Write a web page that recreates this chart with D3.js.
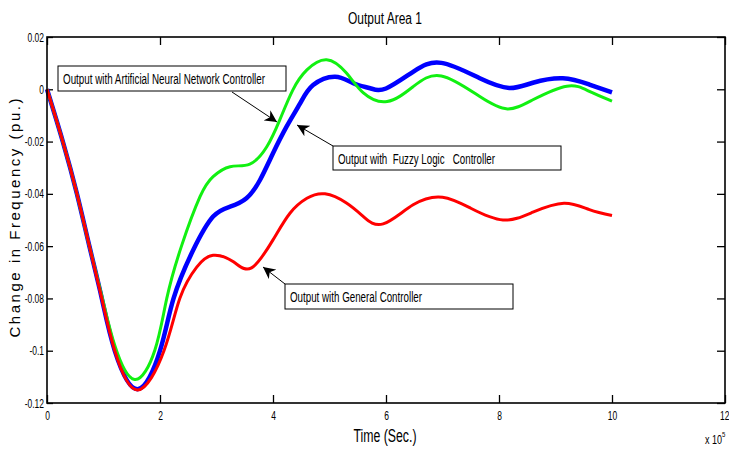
<!DOCTYPE html>
<html>
<head>
<meta charset="utf-8">
<script src="https://cdn.jsdelivr.net/npm/d3@7/dist/d3.min.js"></script>
<style>
body { margin: 0; background: #fff; }
text { font-family: "Liberation Sans", Arial, sans-serif; fill: #000; }
</style>
</head>
<body>
<div id="chart"></div>
<script>
var svgWidth = 729;
var svgHeight = 449;

var margin = { top: 37, right: 4, bottom: 46, left: 47 };
var width = svgWidth - margin.left - margin.right;
var height = svgHeight - margin.top - margin.bottom;

// tick values / labels
var xTicks = [0, 2, 4, 6, 8, 10, 12];
var yTicks = [0.02, 0, -0.02, -0.04, -0.06, -0.08, -0.1, -0.12];
var yTickLabels = ["0.02", "0", "-0.02", "-0.04", "-0.06", "-0.08", "-0.1", "-0.12"];

// time in units of 1e5
var generalTime = [0, 0.28, 0.53, 0.75, 0.97, 1.2, 1.6, 2.07, 2.35, 2.65, 2.94, 3.3, 3.62, 4.0, 4.3, 4.6, 4.92, 5.3, 5.6, 5.95, 6.48, 7.0, 7.5, 8.07, 8.6, 9.15, 9.6, 10];
var generalVal = [0, -0.02, -0.04, -0.06, -0.08, -0.1, -0.115, -0.1, -0.08, -0.068, -0.0635, -0.066, -0.0683, -0.0576, -0.0474, -0.0417, -0.040, -0.0435, -0.0487, -0.0515, -0.0442, -0.0413, -0.0455, -0.050, -0.047, -0.0436, -0.046, -0.0483];

var annTime = [0, 0.28, 0.53, 0.75, 0.97, 1.2, 1.55, 1.91, 2.12, 2.38, 2.71, 2.94, 3.24, 3.59, 3.89, 4.12, 4.35, 4.6, 4.95, 5.3, 5.6, 6.02, 6.48, 6.98, 7.66, 8.15, 8.6, 9.2, 9.6, 10];
var annVal = [0, -0.02, -0.04, -0.06, -0.079, -0.098, -0.111, -0.0997, -0.08, -0.06, -0.041, -0.0334, -0.0296, -0.0286, -0.022, -0.0117, -0.0003, 0.0074, 0.0113, 0.0062, -0.0014, -0.0047, 0.001, 0.0051, -0.0028, -0.0075, -0.004, 0.0012, -0.0008, -0.0045];

var fuzzyTime = [0, 0.28, 0.53, 0.75, 0.97, 1.2, 1.6, 2.0, 2.24, 2.59, 2.94, 3.24, 3.53, 3.77, 4.0, 4.24, 4.48, 4.71, 5.1, 5.42, 5.72, 6.0, 6.48, 6.98, 7.66, 8.18, 8.6, 9.13, 9.6, 10];
var fuzzyVal = [0, -0.02, -0.04, -0.06, -0.08, -0.1, -0.1147, -0.1, -0.08, -0.0614, -0.0487, -0.0449, -0.0417, -0.0347, -0.0245, -0.0143, -0.0054, 0.0016, 0.0048, 0.0023, 0.0004, 0.0003, 0.0067, 0.0101, 0.0042, 0.0005, 0.0025, 0.0042, 0.0018, -0.0012];

var svg = d3.select("#chart")
    .append("svg")
    .attr("width", svgWidth)
    .attr("height", svgHeight);

var chartGroup = svg.append("g")
    .attr("transform", `translate(${margin.left}, ${margin.top})`);

var xLinearScale = d3.scaleLinear().domain([0, 12]).range([0, width]);
var yLinearScale = d3.scaleLinear().domain([-0.12, 0.02]).range([height, 0]);

// axes (ticks inward, on all four sides)
var bottomAxis = d3.axisBottom(xLinearScale).tickValues(xTicks).tickSize(-8).tickPadding(8).tickFormat(d3.format("d"));
var topAxis = d3.axisTop(xLinearScale).tickValues(xTicks).tickSize(-8).tickFormat("");
var leftAxis = d3.axisLeft(yLinearScale).tickValues(yTicks).tickSize(-6).tickPadding(3)
    .tickFormat(function(d, i) { return yTickLabels[i]; });
var rightAxis = d3.axisRight(yLinearScale).tickValues(yTicks).tickSize(-8).tickFormat("");

var narrow = 0.68;
function styleAxis(g) {
    g.select(".domain").remove();
    g.selectAll(".tick line").attr("stroke", "#000").attr("stroke-width", 1.3);
    g.selectAll(".tick text")
        .style("font-size", "12.5px")
        .each(function() {
            var t = d3.select(this);
            var x = +t.attr("x") || 0;
            t.attr("x", x / narrow).attr("transform", `scale(${narrow},1)`);
        });
}

var xAxis = chartGroup.append("g").attr("transform", `translate(0, ${height})`).call(bottomAxis).call(styleAxis);
chartGroup.append("g").call(topAxis).call(styleAxis);
chartGroup.append("g").call(leftAxis).call(styleAxis);
chartGroup.append("g").attr("transform", `translate(${width}, 0)`).call(rightAxis).call(styleAxis);

// keep the last x label inside the picture
xAxis.selectAll(".tick text").filter(d => d === 12).attr("text-anchor", "end").attr("x", 4 / narrow);

// series lines
var line = d3.line()
    .x(d => xLinearScale(d[0]))
    .y(d => yLinearScale(d[1]))
    .curve(d3.curveNatural);

function pairs(t, v) { return t.map((x, i) => [x, v[i]]); }

var series = [
    { data: pairs(fuzzyTime, fuzzyVal), color: "#0000ff", w: 4.5 },
    { data: pairs(annTime, annVal), color: "#11f011", w: 3 },
    { data: pairs(generalTime, generalVal), color: "#ff0000", w: 3 }
];

chartGroup.selectAll("path.series")
    .data(series)
    .enter()
    .append("path")
    .attr("class", "series")
    .attr("d", d => line(d.data))
    .attr("fill", "none")
    .attr("stroke", d => d.color)
    .attr("stroke-width", d => d.w)
    .attr("stroke-linejoin", "round");

// frame
chartGroup.append("rect")
    .attr("width", width)
    .attr("height", height)
    .attr("fill", "none")
    .attr("stroke", "#000")
    .attr("stroke-width", 1.6);

// arrowhead
svg.append("defs").append("marker")
    .attr("id", "arrow")
    .attr("viewBox", "0 0 10 10")
    .attr("refX", 10)
    .attr("refY", 5)
    .attr("markerWidth", 12)
    .attr("markerHeight", 12)
    .attr("markerUnits", "userSpaceOnUse")
    .attr("orient", "auto")
    .append("path")
    .attr("d", "M0,0 L10,5 L0,10 L3,5 Z")
    .attr("fill", "#000");

// annotations
var notes = [
    { text: "Output with Artificial Neural Network Controller", box: [58, 66, 228, 25], tx: 63, ty: 84, tl: 202, from: [232, 92], to: [277, 122] },
    { text: "Output with  Fuzzy Logic   Controller", box: [333, 146, 228, 24], tx: 338, ty: 164, tl: 157, from: [333, 146], to: [297, 125] },
    { text: "Output with General Controller", box: [285, 284, 228, 25], tx: 290, ty: 302, tl: 132, from: [285, 284], to: [263, 267] }
];

notes.forEach(function(n) {
    svg.append("rect")
        .attr("x", n.box[0]).attr("y", n.box[1])
        .attr("width", n.box[2]).attr("height", n.box[3])
        .attr("fill", "#fff")
        .attr("stroke", "#000")
        .attr("stroke-width", 1);
    svg.append("text")
        .attr("x", n.tx).attr("y", n.ty)
        .attr("textLength", n.tl)
        .attr("lengthAdjust", "spacingAndGlyphs")
        .style("font-size", "15.5px")
        .style("white-space", "pre")
        .text(n.text);
    svg.append("line")
        .attr("x1", n.from[0]).attr("y1", n.from[1])
        .attr("x2", n.to[0]).attr("y2", n.to[1])
        .attr("stroke", "#000")
        .attr("stroke-width", 1)
        .attr("marker-end", "url(#arrow)");
});

// titles
svg.append("text")
    .attr("x", 385).attr("y", 24)
    .attr("text-anchor", "middle")
    .attr("textLength", 74)
    .attr("lengthAdjust", "spacingAndGlyphs")
    .style("font-size", "16px")
    .text("Output Area 1");

svg.append("text")
    .attr("x", 385).attr("y", 442)
    .attr("text-anchor", "middle")
    .attr("textLength", 63)
    .attr("lengthAdjust", "spacingAndGlyphs")
    .style("font-size", "18px")
    .text("Time (Sec.)");

svg.append("text")
    .attr("transform", "translate(20, 218) rotate(-90)")
    .attr("text-anchor", "middle")
    .attr("textLength", 239)
    .attr("lengthAdjust", "spacing")
    .style("font-size", "15px")
    .text("Change in Frequency (pu.)");

var expLabel = svg.append("text")
    .attr("transform", "translate(705, 444) scale(0.75,1)")
    .style("font-size", "12px");
expLabel.append("tspan").text("x 10");
expLabel.append("tspan").attr("dy", -7).style("font-size", "8px").text("5");
</script>
</body>
</html>
